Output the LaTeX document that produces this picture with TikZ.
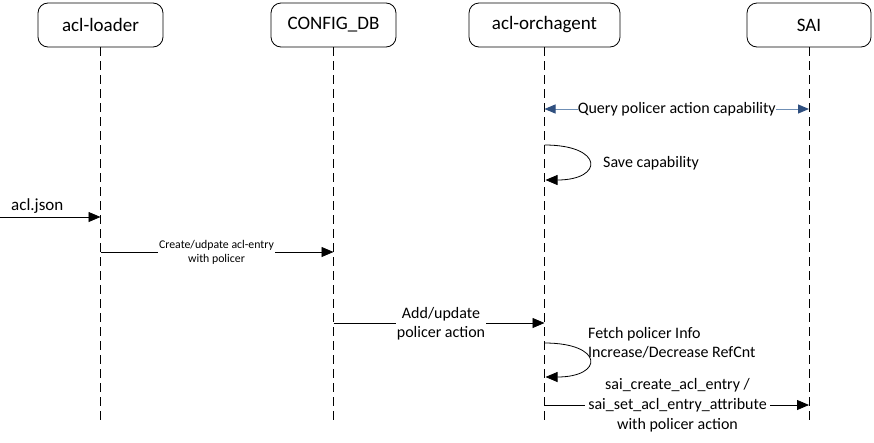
\documentclass[tikz,border=0pt]{standalone}
\usepackage{fontspec}
\setmainfont{Carlito}
\usetikzlibrary{arrows.meta}
\definecolor{qline}{HTML}{6F8FB5}
\definecolor{qhead}{HTML}{2F4F7F}
\tikzset{
  actor/.style={draw=black, line width=0.8pt, rounded corners=10pt, fill=white, minimum height=44pt, font=\fontsize{19}{22}\selectfont, inner sep=0pt},
  life/.style={draw=black, line width=0.9pt, dash pattern=on 9pt off 5pt},
  msg/.style={draw=black, line width=0.8pt, -{Triangle[length=12pt,width=10pt]}},
  lbl/.style={font=\fontsize{16}{18.5}\selectfont, align=center, fill=white, inner sep=1pt},
  small/.style={font=\fontsize{11.8}{14}\selectfont, align=center, fill=white, inner sep=1pt},
  plain/.style={font=\fontsize{16}{19}\selectfont, align=left, inner sep=0pt, anchor=west},
}
\begin{document}
\begin{tikzpicture}[x=1pt,y=-1pt]
\useasboundingbox (0,0) rectangle (874,442);
\node[actor, minimum width=125pt] (A) at (100.5,25) {acl-loader};
\node[actor, minimum width=125pt] (B) at (333.5,25) {CONFIG\_DB};
\node[actor, minimum width=151pt] (C) at (544.5,25) {acl-orchagent};
\node[actor, minimum width=124pt] (D) at (809,25) {SAI};
\coordinate (Ae) at (100.5,425);
\coordinate (Be) at (333.5,425);
\coordinate (Ce) at (544.5,425);
\coordinate (De) at (809,425);
\draw[life] (A.south) -- (Ae);
\draw[life] (B.south) -- (Be);
\draw[life] (C.south) -- (Ce);
\draw[life] (D.south) -- (De);
% Query
\coordinate (q1) at (544.5,109);
\coordinate (q2) at (809,109);
\draw[draw=qline, line width=1pt, {Triangle[length=11pt,width=9pt,fill=qhead,color=qhead]}-{Triangle[length=11pt,width=9pt,fill=qhead,color=qhead]}] (q1) -- node[lbl, inner sep=0pt] (qt) {Query policer action capability} (q2);
% Save capability loop
\coordinate (s1) at (544.5,145);
\coordinate (s2) at (545.5,180);
\draw[msg] (s1) .. controls (604,145) and (604,180) .. (s2);
\node[plain] (st) at (603,163) {Save capability};
% acl.json
\coordinate (j0) at (0,217);
\coordinate (j1) at (100.5,217);
\draw[msg] (j0) -- (j1);
\node[plain, font=\fontsize{17}{20}\selectfont] (jt) at (11,206) {acl.json};
% Create/udpate
\coordinate (c1) at (100.5,252);
\coordinate (c2) at (333.5,252);
\draw[msg] (c1) -- (c2);
\node[small] (ct) at (216.5,252) {Create/udpate acl-entry\\with policer};
% Add/update
\coordinate (a1) at (333.5,323);
\coordinate (a2) at (544.5,323);
\draw[msg] (a1) -- (a2);
\node[lbl, font=\fontsize{16}{19}\selectfont] (at) at (441,324) {Add/update\\policer action};
% Fetch loop
\coordinate (f1) at (544.5,343);
\coordinate (f2) at (545.5,377);
\draw[msg] (f1) .. controls (604,343) and (604,377) .. (f2);
\node[plain, align=left, font=\fontsize{16}{19}\selectfont] (ft) at (588,343) {Fetch policer Info\\Increase/Decrease RefCnt};
% sai create
\coordinate (k1) at (544.5,405);
\coordinate (k2) at (809,405);
\draw[msg] (k1) -- (k2);
\node[font=\fontsize{16}{18.5}\selectfont, align=center, inner sep=0pt] (kt) at (677.5,405.5) {sai\_create\_acl\_entry /\\\colorbox{white}{\strut sai\_set\_acl\_entry\_attribute}\\with policer action};
\end{tikzpicture}
\end{document}
